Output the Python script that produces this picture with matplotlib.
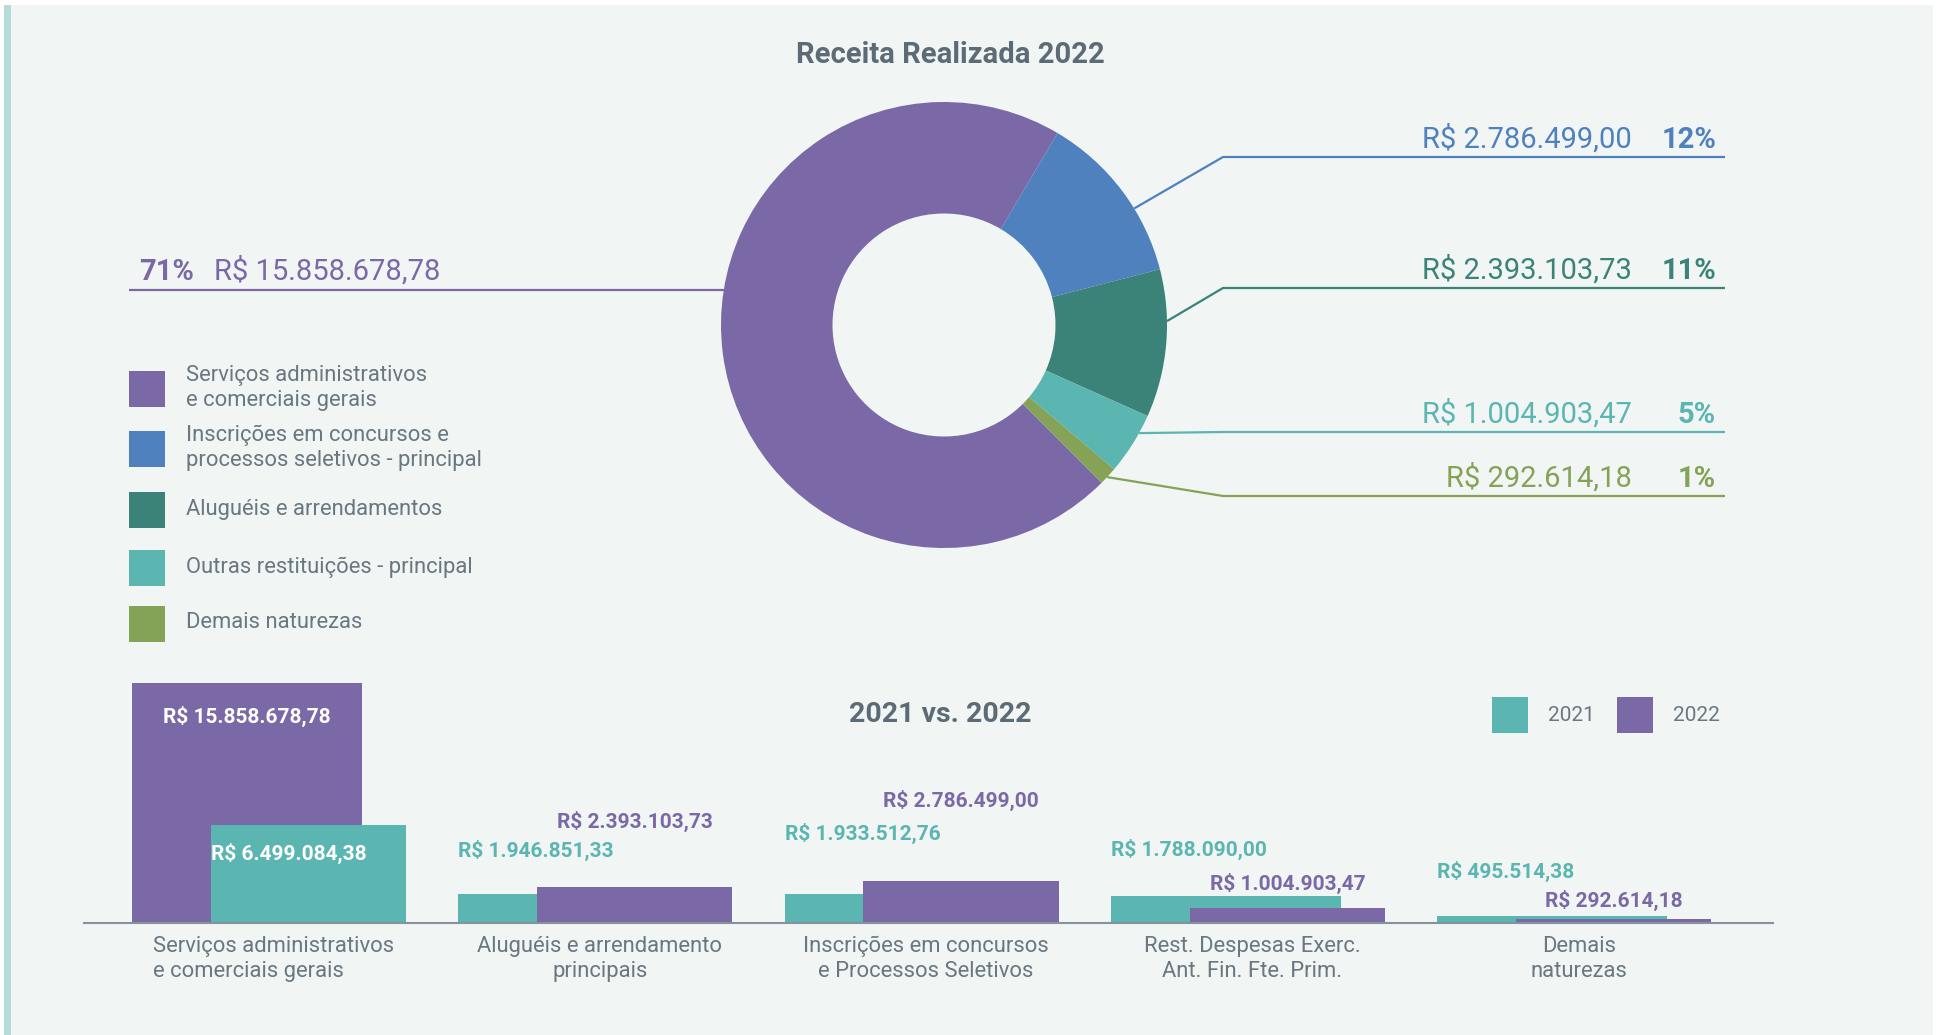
import numpy as np
import matplotlib
matplotlib.use("Agg")
import matplotlib.pyplot as plt
from matplotlib.patches import Rectangle

plt.rcParams["font.family"] = ["Roboto", "DejaVu Sans"]

# ------------------------------------------------------------
# dados
# ------------------------------------------------------------
# receita realizada 2022 por natureza (rosca)
naturezas = [
    "Serviços administrativos\ne comerciais gerais",
    "Inscrições em concursos e\nprocessos seletivos - principal",
    "Aluguéis e arrendamentos",
    "Outras restituições - principal",
    "Demais naturezas",
]
receita_2022 = [15858678.78, 2786499.00, 2393103.73, 1004903.47, 292614.18]

# comparativo 2021 x 2022
categorias = [
    "Serviços administrativos\ne comerciais gerais",
    "Aluguéis e arrendamento\nprincipais",
    "Inscrições em concursos\ne Processos Seletivos",
    "Rest. Despesas Exerc.\nAnt. Fin. Fte. Prim.",
    "Demais\nnaturezas",
]
valores_2021 = [6499084.38, 1946851.33, 1933512.76, 1788090.00, 495514.38]
valores_2022 = [15858678.78, 2393103.73, 2786499.00, 1004903.47, 292614.18]
anos = ["2021", "2022"]

# ------------------------------------------------------------
# estilo
# ------------------------------------------------------------
ROXO, AZUL, VERDE, TURQ, OLIVA = "#7b68a6", "#4e81bd", "#3b8378", "#5bb5b1", "#84a357"
cores_pie = [ROXO, AZUL, VERDE, TURQ, OLIVA]
FUNDO = "#f1f5f4"
TXT = "#687780"
TIT = "#5c6b75"
FS_TXT = 15.8

W, H = 1937, 1035


def brl(v):
    s = f"{v:,.2f}".replace(",", "X").replace(".", ",").replace("X", ".")
    return "R$ " + s


def pct_inteiros(vals):
    # percentuais inteiros somando 100 (maiores restos)
    tot = sum(vals)
    bruto = [v / tot * 100 for v in vals]
    base = [int(np.floor(b)) for b in bruto]
    falta = 100 - sum(base)
    ordem = sorted(range(len(vals)), key=lambda k: bruto[k] - base[k], reverse=True)
    for k in ordem[:falta]:
        base[k] += 1
    return base


fig = plt.figure(figsize=(W / 100, H / 100), dpi=100, facecolor="white")

# camada de fundo em pixels (textos, linhas de chamada, legenda)
ov = fig.add_axes([0, 0, 1, 1])
ov.set_xlim(0, W)
ov.set_ylim(H, 0)
ov.axis("off")
ov.set_zorder(0)
ov.add_patch(Rectangle((11, 5), W - 15, H - 5, color=FUNDO, lw=0))
ov.add_patch(Rectangle((4, 5), 7, H - 5, color="#b5dcd9", lw=0))

ov.text(950, 63, "Receita Realizada 2022", ha="center", va="baseline",
        fontsize=21, fontweight="bold", color=TIT)

# ------------------------------------------------------------
# rosca
# ------------------------------------------------------------
CX, CY, R = 944, 325, 223
ax_p = fig.add_axes([(CX - R) / W, 1 - (CY + R) / H, 2 * R / W, 2 * R / H])
ax_p.pie(receita_2022, colors=cores_pie, startangle=-45, counterclock=False,
         radius=1, wedgeprops=dict(width=0.5, linewidth=0))
ax_p.set_xlim(-1, 1)
ax_p.set_ylim(-1, 1)
ax_p.set_aspect("equal")
ax_p.axis("off")
ax_p.set_zorder(2)
ax_p.patch.set_alpha(0)

pcts = pct_inteiros(receita_2022)
ang_chamada = [171, 31.5, 1, -29, -43]
y_linha = [290, 157, 288, 432, 496]
LW = 1.6

for k, (v, p, c) in enumerate(zip(receita_2022, pcts, cores_pie)):
    a = np.deg2rad(ang_chamada[k])
    sx, sy = CX + R * np.cos(a), CY - R * np.sin(a)
    yl = y_linha[k]
    if k == 0:
        ov.plot([sx, 129], [yl, yl], color=c, lw=LW, solid_capstyle="butt")
        ov.text(139, yl - 10, f"{p}%", ha="left", va="baseline",
                fontsize=21, fontweight="bold", color=c)
        ov.text(214, yl - 10, brl(v), ha="left", va="baseline", fontsize=21, color=c)
    else:
        ov.plot([sx, 1223, 1725], [sy, yl, yl], color=c, lw=LW, solid_capstyle="butt")
        ov.text(1632, yl - 9, brl(v), ha="right", va="baseline", fontsize=21, color=c)
        ov.text(1716, yl - 9, f"{p}%", ha="right", va="baseline",
                fontsize=21, fontweight="bold", color=c)

# legenda da rosca
y_leg = [389, 449, 510, 568, 624]
for nome, c, yc in zip(naturezas, cores_pie, y_leg):
    ov.add_patch(Rectangle((129, yc - 18), 36, 36, color=c, lw=0))
    ov.text(186, yc - 1, nome, ha="left", va="center", fontsize=FS_TXT,
            color=TXT, linespacing=1.25)

# ------------------------------------------------------------
# barras 2021 x 2022
# ------------------------------------------------------------
BX0, BX1, BASE, BH = 84, 1773, 923, 240
xc0, passo = 267, 326.3
ax_b = fig.add_axes([BX0 / W, 1 - BASE / H, (BX1 - BX0) / W, BH / H])
ax_b.set_xlim((BX0 - xc0) / passo, (BX1 - xc0) / passo)
ax_b.set_ylim(0, max(valores_2021 + valores_2022))
ax_b.patch.set_alpha(0)
ax_b.set_zorder(2)
for s in ["top", "left", "right"]:
    ax_b.spines[s].set_visible(False)
ax_b.spines["bottom"].set_color("#85939c")
ax_b.spines["bottom"].set_linewidth(1.5)
ax_b.set_xticks([])
ax_b.set_yticks([])

DX_E, W_E = -0.061, 0.705   # barra de trás (esquerda)
DX_D, W_D = 0.127, 0.598    # barra da frente (direita)
dy_2021 = [-35, 37, 54, 40, 38]
dy_2022 = [-40, 59, 74, 18, 12]
rot = dict(fontsize=15, fontweight="bold", va="baseline",
           textcoords="offset pixels", annotation_clip=False)

for i in range(len(categorias)):
    v21, v22 = valores_2021[i], valores_2022[i]
    if i == 0:
        # primeiro grupo: 2022 atrás, 2021 na frente, rótulos dentro das barras
        ax_b.bar(i + DX_E, v22, W_E, color=ROXO, lw=0, zorder=1)
        ax_b.bar(i + DX_D, v21, W_D, color=TURQ, lw=0, zorder=2)
        ax_b.annotate(brl(v22), (i + DX_E, v22), xytext=(0, dy_2022[i]),
                      ha="center", color="white", zorder=5, **rot)
        ax_b.annotate(brl(v21), (i + DX_D - 0.06, v21), xytext=(0, dy_2021[i]),
                      ha="center", color="white", zorder=5, **rot)
    else:
        ax_b.bar(i + DX_E, v21, W_E, color=TURQ, lw=0, zorder=1)
        ax_b.bar(i + DX_D, v22, W_D, color=ROXO, lw=0, zorder=2)
        ax_b.annotate(brl(v21), (i + DX_E - W_E / 2, v21), xytext=(0, dy_2021[i]),
                      ha="left", color=TURQ, **rot)
        ax_b.annotate(brl(v22), (i + DX_D, v22), xytext=(0, dy_2022[i]),
                      ha="center", color=ROXO, **rot)
    ax_b.annotate(categorias[i], (i + 0.02, 0), xytext=(0, -13), textcoords="offset pixels",
                  ha="center", va="top", fontsize=FS_TXT, color=TXT, linespacing=1.25,
                  multialignment="left" if i == 0 else "center", annotation_clip=False)

ov.text(940, 722, "2021 vs. 2022", ha="center", va="baseline",
        fontsize=20.5, fontweight="bold", color=TIT)

# legenda das barras
for x0, ano, c in zip([1492, 1617], anos, [TURQ, ROXO]):
    ov.add_patch(Rectangle((x0, 697), 36, 36, color=c, lw=0))
    ov.text(x0 + 56, 721, ano, ha="left", va="baseline", fontsize=15, color=TXT)

fig.savefig("out.png", dpi=100, facecolor=fig.get_facecolor())
